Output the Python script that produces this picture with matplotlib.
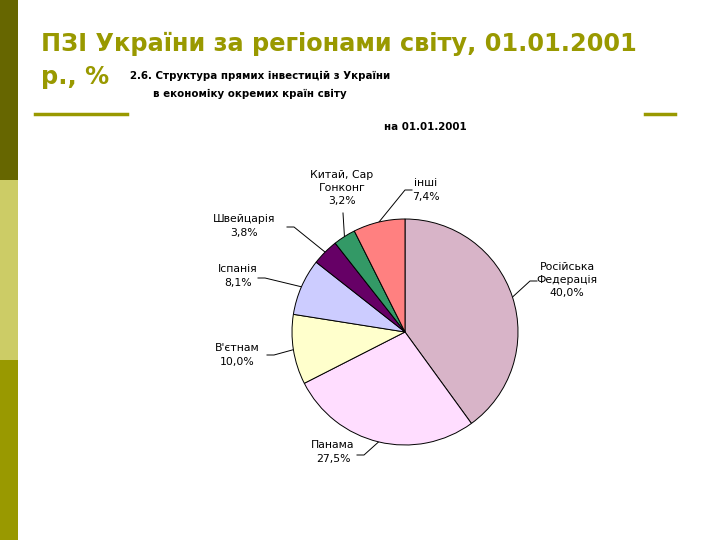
import numpy as np
import matplotlib.pyplot as plt
import matplotlib.patches as patches

countries = ['Російська\nФедерація', 'Панама', "В'єтнам", 'Іспанія', 'Швейцарія',
             'Китай, Сар\nГонконг', 'інші']
shares = [40.0, 27.5, 10.0, 8.1, 3.8, 3.2, 7.4]
colors = ['#D8B4C8', '#FFDDFF', '#FFFFCC', '#CCCCFF', '#660066', '#339966', '#FF8080']
# label text centres and leader start points, figure pixels (y from top)
label_pos = [(567, 280), (333, 452), (237, 355), (238, 276), (244, 226), (342, 188), (426, 190)]
leader_start = [(537, 281), (357, 455), (267, 355), (258, 278), (287, 227), (343, 213), (412, 190)]

W, H = 720, 540
fig = plt.figure(figsize=(7.2, 5.4), dpi=100)
fig.patch.set_facecolor('white')

bg = fig.add_axes([0, 0, 1, 1])
bg.set_xlim(0, W)
bg.set_ylim(H, 0)
bg.axis('off')

# left stripe
bg.add_patch(patches.Rectangle((0, 0), 18, 180, color='#666600', lw=0))
bg.add_patch(patches.Rectangle((0, 180), 18, 180, color='#CCCC66', lw=0))
bg.add_patch(patches.Rectangle((0, 360), 18, 180, color='#999900', lw=0))

bg.plot([35, 127], [114, 114], color='#999900', lw=2.5)
bg.plot([645, 675], [114, 114], color='#999900', lw=2.5)

bg.text(41, 44, 'ПЗІ України за регіонами світу, 01.01.2001', fontsize=17.3,
        fontweight='bold', color='#999900', va='center', ha='left')
bg.text(41, 77, 'р., %', fontsize=17.3, fontweight='bold', color='#999900',
        va='center', ha='left')
bg.text(130, 76, '2.6. Структура прямих інвестицій з України', fontsize=7.4,
        fontweight='bold', va='center', ha='left', family='Liberation Sans Narrow')
bg.text(153, 94, 'в економіку окремих країн світу', fontsize=7.4,
        fontweight='bold', va='center', ha='left', family='Liberation Sans Narrow')
bg.text(425, 127, 'на 01.01.2001', fontsize=7.4, fontweight='bold',
        va='center', ha='center', family='Liberation Sans Narrow')

# pie
cx, cy, r = 405, 332, 113
ax = fig.add_axes([(cx - r) / W, (H - cy - r) / H, 2 * r / W, 2 * r / H])
wedges, _ = ax.pie(shares, colors=colors, startangle=90, counterclock=False,
                   wedgeprops=dict(edgecolor='black', linewidth=0.7))
ax.set_xlim(-1, 1)
ax.set_ylim(-1, 1)
ax.set_aspect('equal')
ax.axis('off')

for w, name, val, (lx, ly), (sx, sy) in zip(wedges, countries, shares, label_pos, leader_start):
    ang = np.deg2rad((w.theta1 + w.theta2) / 2)
    ex = cx + r * np.cos(ang)
    ey = cy - r * np.sin(ang)
    txt = name + '\n' + ('%.1f%%' % val).replace('.', ',')
    bg.text(lx, ly, txt, fontsize=7.8, ha='center', va='center',
            family='DejaVu Sans', linespacing=1.4)
    if abs(ex - sx) > abs(ey - sy) or abs(ex - sx) > 10:
        mx = sx + np.sign(ex - sx) * 7
        bg.plot([sx, mx, ex], [sy, sy, ey], color='black', lw=0.7)
    else:
        bg.plot([sx, ex], [sy, ey], color='black', lw=0.7)

plt.savefig('out.png', dpi=100)
